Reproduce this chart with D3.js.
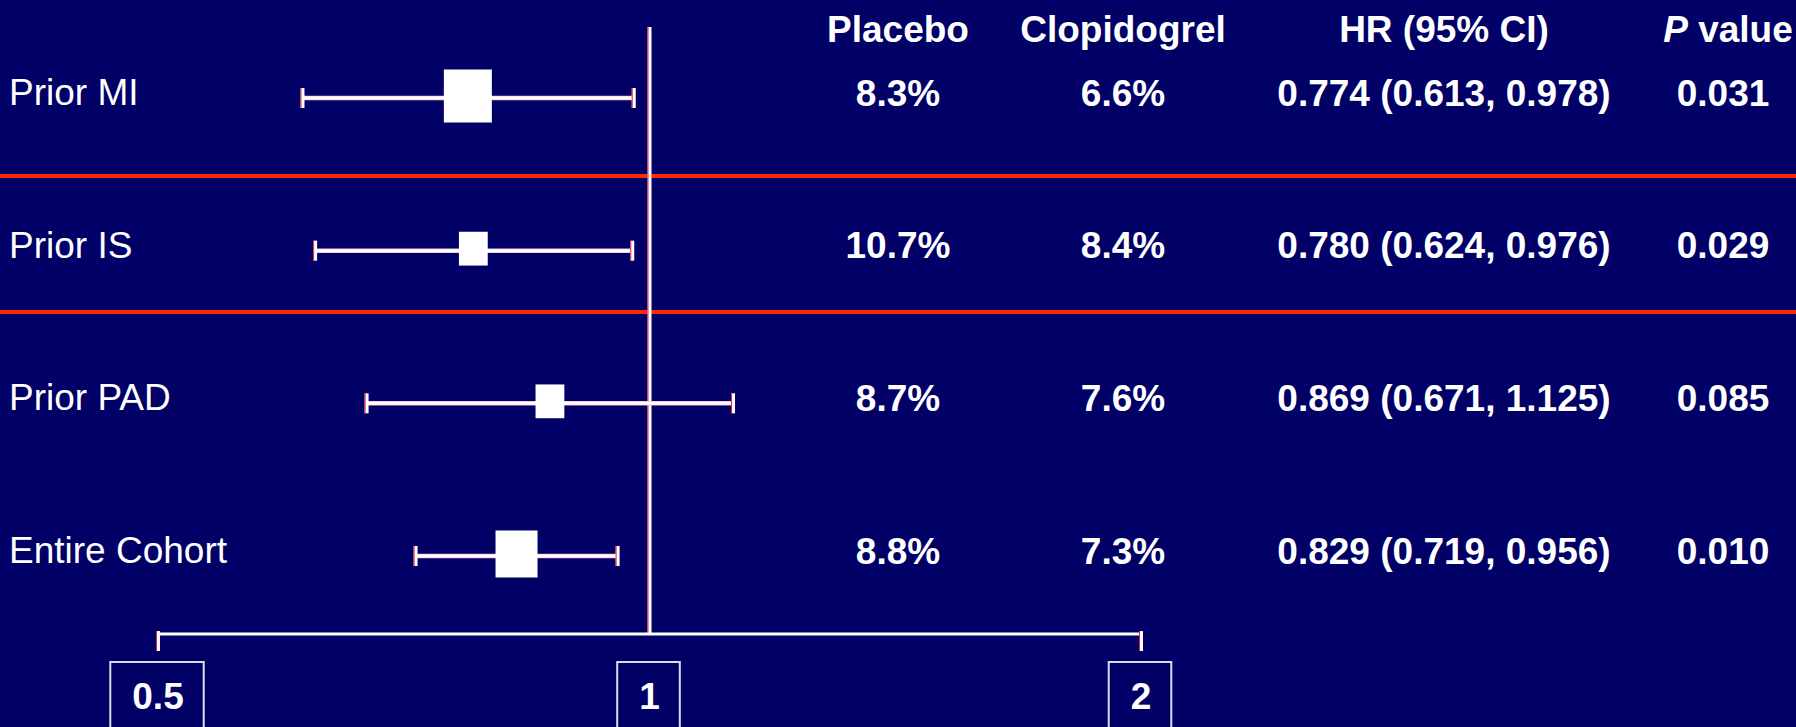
<!DOCTYPE html>
<html>
<head>
<meta charset="utf-8">
<script src="https://cdn.jsdelivr.net/npm/d3@7"></script>
<style>
  html, body { margin: 0; padding: 0; background: #000066; }
  svg { display: block; }
</style>
</head>
<body>
<script>
// Subgroup results: event rates, hazard ratios with 95% CI, and P values
const subgroups = ["Prior MI", "Prior IS", "Prior PAD", "Entire Cohort"];
const placeboRate = [8.3, 10.7, 8.7, 8.8];
const clopidogrelRate = [6.6, 8.4, 7.6, 7.3];
const hazardRatio = [0.774, 0.780, 0.869, 0.829];
const ciLower = [0.613, 0.624, 0.671, 0.719];
const ciUpper = [0.978, 0.976, 1.125, 0.956];
const pValue = [0.031, 0.029, 0.085, 0.010];
const studyWeight = [1.0, 0.6, 0.6, 0.875];
const columnHeaders = ["Placebo", "Clopidogrel", "HR (95% CI)", "P value"];
const axisTicks = [0.5, 1, 2];

const W = 1796, H = 727;
const BG = "#000066", WHITE = "#ffffff", RED = "#ff2a00", FRINGE = "#e8203c";
const FONT = "'Liberation Sans', Arial, Helvetica, sans-serif";

const svg = d3.select("body").append("svg")
  .attr("width", W).attr("height", H)
  .style("font-family", FONT);

svg.append("rect").attr("width", W).attr("height", H).attr("fill", BG);

// Scales
const x = d3.scaleLog().domain([0.5, 2]).range([158, 1141]);
const y = d3.scalePoint().domain(subgroups).range([98, 556]);
const boxW = d3.scaleLinear().domain([0, 1]).range([0, 48]);

const axisY = 634;
const fmtPct = d => d3.format(".1f")(d) + "%";
const fmt3 = d3.format(".3f");

const rows = subgroups.map((name, i) => ({
  name, placebo: placeboRate[i], clop: clopidogrelRate[i],
  hr: hazardRatio[i], lo: ciLower[i], hi: ciUpper[i], p: pValue[i], w: studyWeight[i]
}));

// Row separators
[176, 312].forEach(yy => {
  svg.append("rect").attr("x", 0).attr("y", yy - 2).attr("width", W).attr("height", 4).attr("fill", RED);
});

// Reference line at HR = 1
const refX = x(1);
svg.append("rect").attr("x", refX - 2).attr("y", 27).attr("width", 4).attr("height", axisY - 27).attr("fill", WHITE);
svg.append("rect").attr("x", refX - 2).attr("y", 27).attr("width", 1).attr("height", axisY - 27).attr("fill", FRINGE);

// Horizontal axis
svg.append("rect").attr("x", x(0.5) - 2).attr("y", axisY - 1.5).attr("width", x(2) - x(0.5) + 4).attr("height", 3).attr("fill", WHITE);

const tickG = svg.append("g").selectAll("g").data(axisTicks).join("g")
  .attr("transform", d => `translate(${x(d)},0)`);

tickG.filter(d => d !== 1).append("rect")
  .attr("x", -2).attr("y", axisY - 3).attr("width", 4).attr("height", 20).attr("fill", WHITE);
tickG.filter(d => d !== 1).append("rect")
  .attr("x", -2).attr("y", axisY - 3).attr("width", 1).attr("height", 20).attr("fill", FRINGE);

const tickText = tickG.append("text")
  .attr("x", 0).attr("y", 709)
  .attr("text-anchor", "middle")
  .attr("font-size", 37).attr("font-weight", "bold")
  .attr("fill", WHITE)
  .text(d => d3.format("~g")(d));

tickG.insert("rect", "text")
  .each(function(d) {
    const len = d3.select(this.parentNode).select("text").node().getComputedTextLength();
    const bw = len + 42;
    d3.select(this)
      .attr("x", -bw / 2 - 1).attr("y", 662)
      .attr("width", bw).attr("height", 80);
  })
  .attr("fill", "none").attr("stroke", "#dcdcec").attr("stroke-width", 2);

// Confidence intervals and point estimates
const ci = svg.append("g").selectAll("g").data(rows).join("g")
  .attr("transform", d => `translate(0,${y(d.name)})`);

ci.append("line")
  .attr("x1", d => x(d.lo)).attr("x2", d => x(d.hi))
  .attr("y1", 0).attr("y2", 0)
  .attr("stroke", "#f2c4cc").attr("stroke-width", 4.5);
ci.append("line")
  .attr("x1", d => x(d.lo)).attr("x2", d => x(d.hi))
  .attr("y1", 0).attr("y2", 0)
  .attr("stroke", WHITE).attr("stroke-width", 3);

["lo", "hi"].forEach(k => {
  ci.append("rect")
    .attr("x", d => x(d[k]) - 2).attr("y", -10)
    .attr("width", 4).attr("height", 20).attr("fill", WHITE);
  ci.append("rect")
    .attr("x", d => x(d[k]) - 2).attr("y", -10)
    .attr("width", 1).attr("height", 20).attr("fill", FRINGE);
});

ci.append("rect")
  .attr("x", d => x(d.hr) - boxW(d.w) / 2)
  .attr("y", d => -2 - (boxW(d.w) + 5) / 2)
  .attr("width", d => boxW(d.w))
  .attr("height", d => boxW(d.w) + 5)
  .attr("fill", WHITE);

// Row labels
ci.append("text")
  .attr("x", 9).attr("y", 7)
  .attr("font-size", 37).attr("fill", WHITE)
  .text(d => d.name);

// Table columns
const colX = [898, 1123, 1444, 1723];
const cellText = [
  d => fmtPct(d.placebo),
  d => fmtPct(d.clop),
  d => `${fmt3(d.hr)} (${fmt3(d.lo)}, ${fmt3(d.hi)})`,
  d => fmt3(d.p)
];
cellText.forEach((f, j) => {
  ci.append("text")
    .attr("x", colX[j]).attr("y", 7.5)
    .attr("text-anchor", "middle")
    .attr("font-size", 37).attr("font-weight", "bold")
    .attr("fill", WHITE)
    .text(f);
});

// Column headers
const headerX = [898, 1123, 1444, 1728];
const hdr = svg.append("g").selectAll("text").data(columnHeaders).join("text")
  .attr("x", (d, j) => headerX[j]).attr("y", 42)
  .attr("text-anchor", "middle")
  .attr("font-size", 37).attr("font-weight", "bold")
  .attr("fill", WHITE);

hdr.each(function(d) {
  const t = d3.select(this);
  if (d.startsWith("P ")) {
    t.append("tspan").attr("font-style", "italic").text("P");
    t.append("tspan").text(d.slice(1));
  } else {
    t.text(d);
  }
});
</script>
</body>
</html>
